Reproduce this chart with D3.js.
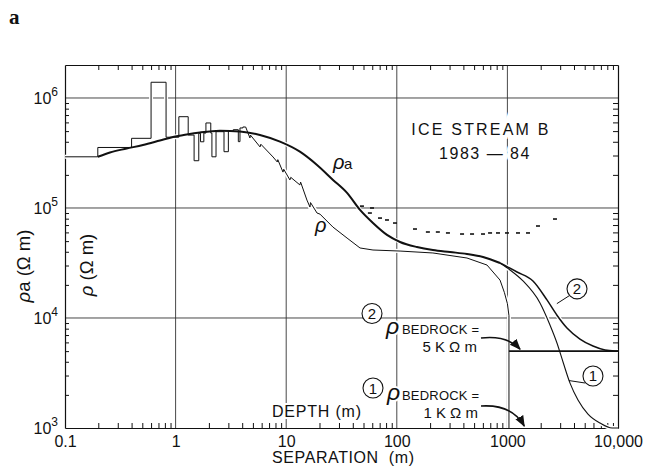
<!DOCTYPE html>
<html>
<head>
<meta charset="utf-8">
<script src="https://cdn.jsdelivr.net/npm/d3@7"></script>
<style>
  body { margin: 0; background: #fff; }
  svg { font-family: "Liberation Sans", Arial, sans-serif; }
</style>
</head>
<body>
<script>
// plot frame
var w = 649;
var h = 469;
var plotLeft = 65, plotRight = 618, plotTop = 65, plotBottom = 428;

// axis ticks
var xTicks = [0.1, 1, 10, 100, 1000, 10000];
var xTickLabels = ["0.1", "1", "10", "100", "1000", "10,000"];
var yTicks = [1e3, 1e4, 1e5, 1e6];
var yTickExps = ["3", "4", "5", "6"];
var xGrid = [1, 10, 100, 1000];
var yGrid = [1e4, 1e5, 1e6];

// layered resistivity (rho) near the surface: depth where each layer starts and its value
var layerDepth = [0.1, 0.198, 0.40, 0.60, 0.82, 1.07, 1.30, 1.47, 1.62, 1.68, 1.80, 1.88, 2.08, 2.13, 2.32, 2.74, 3.00, 3.32, 3.69, 3.82, 4.06, 4.3];
var layerRho   = [2.92e5, 3.55e5, 4.3e5, 1.39e6, 4.4e5, 6.76e5, 4.6e5, 2.69e5, 4.78e5, 4.0e5, 4.8e5, 5.93e5, 4.8e5, 2.92e5, 4.94e5, 3.25e5, 5.0e5, 5.15e5, 4.01e5, 5.34e5, 5.45e5, 5.45e5];

// rho below ~4 m
var rhoDepth = [4.3, 4.7, 4.75, 5.8, 5.9, 7.6, 8.3, 8.4, 9.35, 9.5, 10.8, 11.0, 13.3, 13.5, 15.4, 16.4, 16.6, 19.0, 20.2, 26.5, 35.5, 46.5, 60.9, 107, 212, 431, 654, 858, 940, 1000, 1033, 1033];
var rhoValue = [5.45e5, 4.33e5, 4.6e5, 3.59e5, 3.8e5, 2.91e5, 2.62e5, 2.75e5, 2.12e5, 2.25e5, 1.80e5, 1.9e5, 1.62e5, 1.72e5, 1.18e5, 1.02e5, 1.12e5, 9.0e4, 8.8e4, 6.7e4, 5.33e4, 4.33e4, 4.15e4, 4.06e4, 3.9e4, 3.51e4, 3.03e4, 2.21e4, 1.7e4, 1.35e4, 1.05e4, 1000];

// bedrock of model 2 (5 kOhm m)
var bedrockDepth = [1033, 10000];
var bedrockValue = [5000, 5000];

// apparent resistivity rho_a
var rhoaSep   = [0.198, 0.255, 0.361, 0.507, 0.722, 0.947, 1.26, 1.66, 2.52, 3.82, 5.79, 8.79, 13.3, 19.0, 26.5, 35.5, 46.5, 60.9, 81.5, 107, 152, 212, 303, 431, 602, 858];
var rhoaValue = [2.92e5, 3.2e5, 3.47e5, 3.74e5, 4.11e5, 4.42e5, 4.66e5, 4.86e5, 5.04e5, 4.96e5, 4.61e5, 4.01e5, 3.25e5, 2.46e5, 1.80e5, 1.37e5, 9.6e4, 7.3e4, 5.69e4, 4.91e4, 4.42e4, 4.15e4, 3.98e4, 3.82e4, 3.59e4, 3.16e4];

// computed rho_a for the two bedrock models
var model1Sep   = [858, 1057, 1384, 1971, 2427, 2806, 3184, 3683, 4348, 5353, 6875, 8831, 10000];
var model1Value = [3.16e4, 2.73e4, 2.17e4, 1.37e4, 8630, 5930, 3980, 2560, 1800, 1340, 1110, 1000, 1000];
var model2Sep   = [858, 1222, 1703, 2279, 2806, 3456, 4531, 5938, 7628, 9397, 10000];
var model2Value = [3.16e4, 2.62e4, 2.17e4, 1.46e4, 1.06e4, 8110, 6440, 5560, 5120, 5010, 5000];

// measured rho_a at large separations
var fieldSep   = [48.4, 57.1, 59.7, 70.5, 81.5, 96.3, 146, 191, 235, 290, 389, 479, 602, 697, 822, 991, 1247, 1536, 1890, 2692];
var fieldValue = [1.04e5, 9.0e4, 1.0e5, 8.1e4, 7.78e4, 7.3e4, 6.44e4, 6.05e4, 6.05e4, 5.93e4, 5.8e4, 5.8e4, 5.8e4, 5.93e4, 5.93e4, 5.93e4, 5.93e4, 5.93e4, 6.86e4, 7.94e4];

window.onload = function() {
  var x = d3.scaleLog().domain([0.1, 10000]).range([plotLeft, plotRight]);
  var y = d3.scaleLog().domain([1000, 1.995e6]).range([plotBottom, plotTop]);

  var svg = d3.select("body").append("svg")
              .attr("width", w)
              .attr("height", h);

  var defs = svg.append("defs");
  defs.append("marker")
      .attr("id", "arrow")
      .attr("viewBox", "0 0 10 10")
      .attr("refX", 9).attr("refY", 5)
      .attr("markerWidth", 7).attr("markerHeight", 7)
      .attr("orient", "auto")
      .append("path")
      .attr("d", "M0,1 L10,5 L0,9 z")
      .attr("fill", "#111");

  // grid lines
  svg.append("g").selectAll("line").data(xGrid).join("line")
     .attr("x1", d => x(d)).attr("x2", d => x(d))
     .attr("y1", plotTop).attr("y2", plotBottom)
     .attr("stroke", "#333").attr("stroke-width", 0.9);
  svg.append("g").selectAll("line").data(yGrid).join("line")
     .attr("x1", plotLeft).attr("x2", plotRight)
     .attr("y1", d => y(d)).attr("y2", d => y(d))
     .attr("stroke", "#333").attr("stroke-width", 0.9);

  // minor ticks on all four sides, pointing inward
  var minor = [];
  for (var e = -1; e < 4; e++) {
    for (var m = 2; m < 10; m++) minor.push(m * Math.pow(10, e));
  }
  var minorY = [];
  for (var e2 = 3; e2 < 7; e2++) {
    for (var m2 = 2; m2 < 10; m2++) {
      var v = m2 * Math.pow(10, e2);
      if (v <= 1.995e6) minorY.push(v);
    }
  }

  function styleAxis(g) {
    g.selectAll("path").attr("stroke", "#111").attr("stroke-width", 1.2);
    g.selectAll("line").attr("stroke", "#111").attr("stroke-width", 1);
  }

  svg.append("g").attr("transform", "translate(0," + plotBottom + ")")
     .call(d3.axisBottom(x).tickValues(minor).tickSize(-5).tickSizeOuter(0).tickFormat(""))
     .call(styleAxis);
  svg.append("g").attr("transform", "translate(0," + plotTop + ")")
     .call(d3.axisTop(x).tickValues(minor).tickSize(-5).tickSizeOuter(0).tickFormat(""))
     .call(styleAxis);
  svg.append("g").attr("transform", "translate(" + plotLeft + ",0)")
     .call(d3.axisLeft(y).tickValues(minorY).tickSize(-4).tickSizeOuter(0).tickFormat(""))
     .call(styleAxis);
  svg.append("g").attr("transform", "translate(" + plotRight + ",0)")
     .call(d3.axisRight(y).tickValues(minorY).tickSize(-5).tickSizeOuter(0).tickFormat(""))
     .call(styleAxis);

  // x tick labels
  var xl = svg.append("g").attr("transform", "translate(0," + plotBottom + ")")
     .call(d3.axisBottom(x).tickValues(xTicks).tickSize(0).tickPadding(8)
           .tickFormat(function(d, i) { return xTickLabels[i]; }));
  xl.select(".domain").remove();
  xl.selectAll("text").attr("font-size", 16).attr("font-family", "Liberation Sans, Arial, sans-serif").attr("fill", "#111");

  // y tick labels: 10 with exponent
  var yl = svg.append("g").selectAll("text").data(yTicks).join("text")
     .attr("x", plotLeft - 7)
     .attr("y", d => y(d) + 6)
     .attr("text-anchor", "end")
     .attr("font-size", 16)
     .attr("fill", "#111");
  yl.append("tspan").text("10");
  yl.append("tspan").attr("dy", -8).attr("font-size", 12).text((d, i) => yTickExps[i]);

  // axis titles
  svg.append("text")
     .attr("x", 272).attr("y", 463)
     .attr("font-size", 16)
     .attr("letter-spacing", 0.6)
     .style("white-space", "pre")
     .attr("fill", "#111")
     .text("SEPARATION  (m)");

  var ya = svg.append("text")
     .attr("transform", "translate(30,266) rotate(-90)")
     .attr("text-anchor", "middle")
     .attr("font-size", 18.5)
     .attr("fill", "#111");
  ya.append("tspan").attr("font-style", "italic").text("\u03C1");
  ya.append("tspan").text("a (\u03A9 m)");

  var yb = svg.append("text")
     .attr("transform", "translate(93,265) rotate(-90)")
     .attr("text-anchor", "middle")
     .attr("font-size", 18.5)
     .attr("fill", "#111");
  yb.append("tspan").attr("font-style", "italic").text("\u03C1");
  yb.append("tspan").text(" (\u03A9 m)");

  // curves
  var stepLine = d3.line().x((d, i) => x(layerDepth[i])).y(d => y(d)).curve(d3.curveStepAfter);
  var rhoLine = d3.line().x((d, i) => x(rhoDepth[i])).y(d => y(d));
  var rhoaLine = d3.line().x((d, i) => x(rhoaSep[i])).y(d => y(d)).curve(d3.curveMonotoneX);
  var m1Line = d3.line().x((d, i) => x(model1Sep[i])).y(d => y(d)).curve(d3.curveMonotoneX);
  var m2Line = d3.line().x((d, i) => x(model2Sep[i])).y(d => y(d)).curve(d3.curveMonotoneX);
  var bedLine = d3.line().x((d, i) => x(bedrockDepth[i])).y(d => y(d));

  var paths = [
    {d: stepLine(layerRho), wd: 1.0},
    {d: rhoLine(rhoValue), wd: 1.0},
    {d: bedLine(bedrockValue), wd: 1.6},
    {d: rhoaLine(rhoaValue), wd: 2.0},
    {d: m1Line(model1Value), wd: 1.1},
    {d: m2Line(model2Value), wd: 1.5}
  ];

  // white underlay breaks the grid where curves cross it
  svg.append("g").selectAll("path").data(paths).join("path")
     .attr("d", d => d.d).attr("fill", "none")
     .attr("stroke", "#fff").attr("stroke-width", 4);
  svg.append("g").selectAll("path").data(paths).join("path")
     .attr("d", d => d.d).attr("fill", "none")
     .attr("stroke", "#111").attr("stroke-width", d => d.wd)
     .attr("stroke-linejoin", "round");

  // measured points, drawn as short dashes
  svg.append("g").selectAll("line").data(fieldValue).join("line")
     .attr("x1", (d, i) => x(fieldSep[i]) - 2)
     .attr("x2", (d, i) => x(fieldSep[i]) + 2)
     .attr("y1", d => y(d)).attr("y2", d => y(d))
     .attr("stroke", "#111").attr("stroke-width", 1.6);

  // text with a white halo so grid lines stop around it
  function label(px, py, txt, size, opts) {
    opts = opts || {};
    var t = svg.append("text")
       .attr("x", px).attr("y", py)
       .attr("font-size", size)
       .attr("fill", "#111")
       .attr("stroke", "#fff").attr("stroke-width", opts.halo == null ? 4 : opts.halo)
       .attr("paint-order", "stroke")
       .attr("text-anchor", opts.anchor || "start")
       .style("white-space", "pre");
    if (opts.italic) t.attr("font-style", "italic");
    if (opts.spacing) t.attr("letter-spacing", opts.spacing);
    if (opts.family) t.attr("font-family", opts.family);
    if (opts.weight) t.attr("font-weight", opts.weight);
    t.text(txt);
    return t;
  }

  label(9, 24, "a", 21, {family: "Liberation Serif, serif", weight: "bold", halo: 0});
  label(481, 135, "ICE STREAM B", 16, {anchor: "middle", spacing: 2.2, halo: 8});
  label(485, 159, "1983 \u2014 84", 16, {anchor: "middle", spacing: 1.5, halo: 8});
  label(272, 417, "DEPTH (m)", 16, {spacing: 0.8});

  // curve names
  label(x(26.5), y(2.25e5), "\u03C1", 20, {italic: true, halo: 0});
  label(x(26.5) + 11, y(2.25e5), "a", 15, {halo: 0});
  label(x(18.2), y(6.1e4), "\u03C1", 20, {italic: true, halo: 0});

  // bedrock annotations
  function circled(px, py, n) {
    svg.append("circle").attr("cx", px).attr("cy", py).attr("r", 10)
       .attr("fill", "#fff").attr("stroke", "#111").attr("stroke-width", 1.1);
    svg.append("text").attr("x", px).attr("y", py + 5.5)
       .attr("text-anchor", "middle").attr("font-size", 15).attr("fill", "#111").text(n);
  }

  circled(372, y(1.1e4), "2");
  label(386, 334, "\u03C1", 23, {italic: true});
  label(402, 334, "BEDROCK =", 13, {spacing: 0.2});
  label(477, 352, "5 K \u03A9 m", 15, {anchor: "end"});

  circled(373, 388, "1");
  label(387, 400, "\u03C1", 23, {italic: true});
  label(402, 400, "BEDROCK =", 13, {spacing: 0.2});
  label(478, 418, "1 K \u03A9 m", 15, {anchor: "end"});

  // arrows to bedrock levels
  svg.append("path")
     .attr("d", "M481,338 Q507,335 " + (x(1300)) + "," + (y(5000) - 2))
     .attr("fill", "none").attr("stroke", "#111").attr("stroke-width", 1.6)
     .attr("marker-end", "url(#arrow)");
  svg.append("path")
     .attr("d", "M481,406 Q512,404 " + (x(1420)) + "," + (y(1000) - 2))
     .attr("fill", "none").attr("stroke", "#111").attr("stroke-width", 1.6)
     .attr("marker-end", "url(#arrow)");

  // circled curve labels with leaders
  circled(x(4260), y(1.84e4), "2");
  svg.append("line")
     .attr("x1", x(4260) - 8).attr("y1", y(1.84e4) + 7)
     .attr("x2", x(2800)).attr("y2", y(1.35e4))
     .attr("stroke", "#111").attr("stroke-width", 1);
  circled(x(5940), y(2970), "1");
  svg.append("line")
     .attr("x1", x(5940) - 8).attr("y1", y(2970) + 7)
     .attr("x2", x(3600)).attr("y2", y(2700))
     .attr("stroke", "#111").attr("stroke-width", 1);
};
</script>
</body>
</html>
